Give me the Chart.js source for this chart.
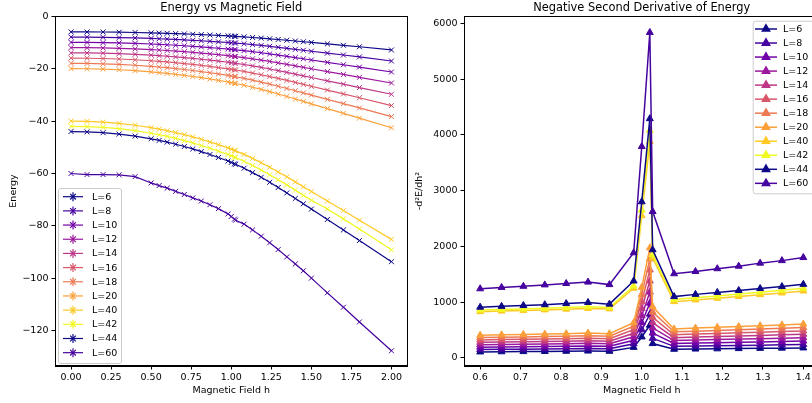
<!DOCTYPE html>
<html><head><meta charset="utf-8">
<script src="https://cdn.jsdelivr.net/npm/chart.js@4.4.1/dist/chart.umd.min.js"></script>
<style>
html,body{margin:0;padding:0;background:#fff;overflow:hidden;width:812px;height:403px;position:relative;}
#c1{position:absolute;left:0;top:0;}
#c2{position:absolute;left:410px;top:0;}
</style></head><body>
<canvas id="c1" width="412" height="403" style="width:412px;height:403px"></canvas>
<canvas id="c2" width="420" height="403" style="width:420px;height:403px"></canvas>
<script>
// ---------- data ----------
const seriesLabels = ['L=6','L=8','L=10','L=12','L=14','L=16','L=18','L=20','L=40','L=42','L=44','L=60'];
const seriesColors = ['#0d0887','#46039f','#7201a8','#9c179e','#bd3786','#d8576b','#ed7953','#fb9f3a','#fdca26','#f0f921','#0d0887','#46039f'];

// Left panel: energy vs field
const hEnergy = [0,0.1,0.2,0.3,0.4,0.5,0.55,0.6,0.653,0.707,0.76,0.813,0.867,0.92,0.98,1.0,1.02,1.027,1.08,1.133,1.187,1.24,1.293,1.347,1.4,1.45,1.5,1.6,1.7,1.8,2.0];
const E_L6  = [-6.0,-6.02,-6.06,-6.13,-6.24,-6.38,-6.46,-6.55,-6.66,-6.78,-6.91,-7.04,-7.19,-7.35,-7.54,-7.61,-7.68,-7.70,-7.91,-8.14,-8.38,-8.64,-8.91,-9.19,-9.48,-9.76,-10.03,-10.57,-11.12,-11.67,-12.9];
const E_L8  = [-8.0,-8.02,-8.08,-8.18,-8.32,-8.5,-8.62,-8.74,-8.88,-9.04,-9.21,-9.39,-9.59,-9.8,-10.05,-10.14,-10.24,-10.27,-10.54,-10.85,-11.18,-11.52,-11.88,-12.26,-12.64,-13.01,-13.38,-14.1,-14.82,-15.56,-17.1];
const E_L10 = [-10,-10.03,-10.1,-10.22,-10.4,-10.63,-10.77,-10.92,-11.1,-11.3,-11.51,-11.74,-11.99,-12.25,-12.56,-12.68,-12.8,-12.84,-13.18,-13.56,-13.97,-14.4,-14.85,-15.32,-15.8,-16.26,-16.72,-17.62,-18.53,-19.45,-21.3];
const E_L12 = [-12,-12.04,-12.12,-12.26,-12.48,-12.76,-12.92,-13.1,-13.32,-13.56,-13.81,-14.09,-14.39,-14.7,-15.07,-15.22,-15.36,-15.41,-15.82,-16.27,-16.76,-17.28,-17.82,-18.38,-18.96,-19.51,-20.06,-21.14,-22.24,-23.34,-25.5];
const E_L14 = [-14,-14.04,-14.14,-14.31,-14.56,-14.88,-15.08,-15.29,-15.54,-15.82,-16.11,-16.44,-16.79,-17.15,-17.58,-17.75,-17.92,-17.98,-18.45,-18.98,-19.56,-20.16,-20.79,-21.45,-22.12,-22.76,-23.41,-24.67,-25.94,-27.23,-29.8];
const E_L16 = [-16,-16.05,-16.16,-16.35,-16.64,-17.01,-17.23,-17.47,-17.76,-18.08,-18.42,-18.78,-19.18,-19.6,-20.1,-20.29,-20.48,-20.54,-21.09,-21.7,-22.35,-23.04,-23.76,-24.51,-25.28,-26.02,-26.75,-28.19,-29.65,-31.12,-34.1];
const E_L18 = [-18,-18.05,-18.18,-18.4,-18.72,-19.13,-19.39,-19.66,-19.98,-20.34,-20.72,-21.13,-21.58,-22.05,-22.61,-22.82,-23.04,-23.11,-23.72,-24.41,-25.15,-25.92,-26.73,-27.58,-28.44,-29.27,-30.1,-31.72,-33.35,-35.01,-38.3];
const E_L20 = [-20,-20.06,-20.2,-20.44,-20.8,-21.26,-21.54,-21.84,-22.2,-22.6,-23.02,-23.48,-23.98,-24.5,-25.12,-25.36,-25.6,-25.68,-26.36,-27.12,-27.94,-28.8,-29.7,-30.64,-31.6,-32.52,-33.44,-35.24,-37.06,-38.9,-42.56];
const E_L40 = [-40,-40.12,-40.4,-40.88,-41.6,-42.52,-43.08,-43.68,-44.4,-45.2,-46.04,-46.96,-47.96,-49.0,-50.24,-50.72,-51.2,-51.36,-52.72,-54.24,-55.88,-57.6,-59.4,-61.28,-63.2,-65.04,-66.88,-70.48,-74.12,-77.8,-85.12];
const E_L42 = [-42,-42.13,-42.42,-42.92,-43.68,-44.65,-45.23,-45.86,-46.62,-47.46,-48.34,-49.31,-50.36,-51.45,-52.75,-53.26,-53.76,-53.93,-55.36,-56.95,-58.67,-60.48,-62.37,-64.34,-66.36,-68.29,-70.22,-73.5,-77.3,-81.2,-89.1];
const E_L44 = [-44,-44.13,-44.44,-44.97,-45.76,-46.77,-47.39,-48.05,-48.84,-49.72,-50.64,-51.66,-52.76,-53.9,-55.26,-55.79,-56.32,-56.5,-57.99,-59.66,-61.47,-63.36,-65.34,-67.41,-69.52,-71.54,-73.57,-77.53,-81.53,-85.58,-93.63];
const E_L60 = [-60.0,-60.4,-60.4,-60.5,-61.2,-63.6,-64.6,-65.6,-66.8,-68.0,-69.3,-70.5,-71.9,-73.4,-75.4,-76.4,-77.4,-77.8,-79.3,-81.5,-83.9,-86.4,-89.0,-91.8,-94.5,-97.1,-99.9,-105.5,-111.0,-116.6,-127.6];

// Right panel: -d2E/dh2
const hDeriv = [0.6,0.653,0.707,0.76,0.813,0.867,0.92,0.98,1.0,1.02,1.027,1.08,1.133,1.187,1.24,1.293,1.347,1.4];
const D_L6  = [108,111,114,117,120,124,120,190,377,587,258,156,160,164,168,172,176,180];
const D_L8  = [151,155,158,162,165,170,165,253,504,785,352,208,214,219,225,230,236,241];
const D_L10 = [194,198,202,206,210,216,210,316,631,983,446,260,267,274,281,288,295,302];
const D_L12 = [237,242,246,251,255,262,255,379,758,1181,540,312,321,329,338,346,355,363];
const D_L14 = [280,285,290,295,300,308,300,442,885,1379,634,364,374,384,394,404,414,424];
const D_L16 = [323,329,334,340,345,354,345,505,1012,1577,728,416,428,439,451,462,474,485];
const D_L18 = [366,372,378,384,390,400,390,568,1139,1775,822,468,481,494,507,520,533,546];
const D_L20 = [409,415,422,428,435,446,435,631,1266,1973,916,520,535,549,564,578,593,607];
const D_L40 = [830,840,850,862,875,888,880,1250,2550,3880,1790,1010,1040,1070,1100,1135,1165,1200];
const D_L42 = [860,870,880,892,905,918,905,1290,2650,4080,1850,1050,1080,1110,1145,1180,1215,1250];
const D_L44 = [910,925,940,955,975,995,965,1380,2800,4290,1940,1100,1140,1175,1210,1245,1280,1320];
const D_L60 = [1240,1265,1285,1310,1335,1360,1315,1885,3790,5835,2625,1510,1550,1600,1645,1700,1745,1800];

const energySeries = [E_L6,E_L8,E_L10,E_L12,E_L14,E_L16,E_L18,E_L20,E_L40,E_L42,E_L44,E_L60];
const derivSeries  = [D_L6,D_L8,D_L10,D_L12,D_L14,D_L16,D_L18,D_L20,D_L40,D_L42,D_L44,D_L60];

const energyTicksX = [0,0.25,0.5,0.75,1.0,1.25,1.5,1.75,2.0];
const energyTicksY = [0,-20,-40,-60,-80,-100,-120];
const derivTicksX  = [0.6,0.7,0.8,0.9,1.0,1.1,1.2,1.3,1.4];
const derivTicksY  = [0,1000,2000,3000,4000,5000,6000];

// ---------- rendering ----------
const FONT = '"DejaVu Sans", "Liberation Sans", sans-serif';
Chart.defaults.font.family = FONT;
Chart.defaults.color = '#000';

function fmtMinus(v, d){ const s = Math.abs(v).toFixed(d); return v < 0 ? '\u2212' + s : s; }

function decoPlugin(cfg){
  return {
    id: 'deco',
    afterDraw(chart){
      const ctx = chart.ctx, a = chart.chartArea;
      ctx.save();
      // legend
      const L = cfg.legend;
      ctx.beginPath();
      if (ctx.roundRect) ctx.roundRect(L.x + 0.5, L.y + 0.5, L.w, L.h, 2.5); else ctx.rect(L.x + 0.5, L.y + 0.5, L.w, L.h);
      ctx.fillStyle = 'rgba(255,255,255,0.8)';
      ctx.fill();
      ctx.strokeStyle = '#cccccc';
      ctx.lineWidth = 1;
      ctx.stroke();
      chart.data.datasets.forEach((d, i) => {
        const y = L.first + i * L.step;
        ctx.strokeStyle = d.borderColor;
        ctx.lineWidth = d.borderWidth;
        ctx.beginPath(); ctx.moveTo(L.x0, y); ctx.lineTo(L.x1, y); ctx.stroke();
        const mx = (L.x0 + L.x1) / 2;
        if (cfg.marker === 'star') {
          ctx.lineWidth = 1.2;
          Chart.helpers.drawPoint(ctx, {pointStyle: 'crossRot', radius: 4, borderWidth: 1.2}, mx, y);
          ctx.beginPath(); ctx.moveTo(mx, y - 4.5); ctx.lineTo(mx, y + 4.5); ctx.stroke();
        } else {
          ctx.fillStyle = d.borderColor;
          Chart.helpers.drawPoint(ctx, {pointStyle: 'triangle', radius: 4.2, borderWidth: 1}, mx, y);
        }
        ctx.fillStyle = '#000';
        ctx.font = '9.5px ' + FONT;
        ctx.textAlign = 'left';
        ctx.textBaseline = 'middle';
        ctx.fillText(d.label, L.tx, y + 0.5);
      });
      // frame (all four spines)
      ctx.strokeStyle = '#000';
      ctx.lineWidth = 1;
      ctx.strokeRect(Math.round(a.left) + 0.5, Math.round(a.top) + 0.5, Math.round(a.right - a.left) - 1, Math.round(a.bottom - a.top) - 1);
      // title
      ctx.fillStyle = '#000';
      ctx.font = '11.4px ' + FONT;
      ctx.textAlign = 'center';
      ctx.textBaseline = 'alphabetic';
      ctx.fillText(cfg.title, (a.left + a.right) / 2, 11);
      ctx.restore();
    }
  };
}

function makeScales(o){
  const tickFont = {size: 9.5, family: FONT};
  const common = (ticksArr) => ({
    type: 'linear',
    grid: {display: true, drawOnChartArea: false, drawTicks: true, tickLength: 3.5, color: '#000', lineWidth: 1},
    border: {display: true, color: '#000', width: 1},
    afterBuildTicks: s => { s.ticks = ticksArr.map(v => ({value: v})); },
  });
  return {
    x: Object.assign(common(o.xTicks), {
      min: o.xMin, max: o.xMax,
      ticks: {font: tickFont, color: '#000', padding: 2, maxRotation: 0, autoSkip: false, callback: v => fmtMinus(v, o.xDec)},
      title: {display: true, text: 'Magnetic Field h', font: {size: 9.5, family: FONT}, color: '#000', padding: {top: 0, bottom: 7}},
      afterFit: s => { s.height = 37; s.paddingLeft = 0; s.paddingRight = 0; s.paddingTop = 0; s.paddingBottom = 0; }
    }),
    y: Object.assign(common(o.yTicks), {
      min: o.yMin, max: o.yMax,
      ticks: {font: tickFont, color: '#000', padding: 3, autoSkip: false, callback: v => fmtMinus(v, 0)},
      title: {display: true, text: o.yTitle, font: {size: 9.5, family: FONT}, color: '#000', padding: {top: o.yTitlePad, bottom: 0}},
      afterFit: s => { s.width = o.yWidth; s.paddingLeft = 0; s.paddingRight = 0; s.paddingTop = 0; s.paddingBottom = 0; }
    })
  };
}

function buildDatasets(xs, series, style){
  return series.map((vals, i) => Object.assign({
    label: seriesLabels[i],
    data: xs.map((x, j) => ({x: x, y: vals[j]})),
    borderColor: seriesColors[i],
    backgroundColor: seriesColors[i],
    pointBorderColor: seriesColors[i],
    pointBackgroundColor: seriesColors[i],
    tension: 0,
    order: series.length - i
  }, style));
}

new Chart(document.getElementById('c1'), {
  type: 'line',
  data: {datasets: buildDatasets(hEnergy, energySeries, {borderWidth: 1.2, pointStyle: 'crossRot', pointRadius: 3.5, pointBorderWidth: 1, pointHoverRadius: 3.5})},
  options: {
    responsive: false, animation: false, devicePixelRatio: 1,
    layout: {padding: {left: 0, right: 4, top: 16, bottom: 0}},
    plugins: {legend: {display: false}, tooltip: {enabled: false}, title: {display: false}},
    scales: makeScales({xTicks: energyTicksX, yTicks: energyTicksY, xMin: -0.1, xMax: 2.1, yMin: -133.4, yMax: 0.05, xDec: 2, yTitle: 'Energy', yTitlePad: 8, yWidth: 55})
  },
  plugins: [decoPlugin({title: 'Energy vs Magnetic Field', marker: 'star',
    legend: {x: 58, y: 188, w: 63, h: 175, first: 196.7, step: 14.18, x0: 63, x1: 83, tx: 92}})]
});

new Chart(document.getElementById('c2'), {
  type: 'line',
  data: {datasets: buildDatasets(hDeriv, derivSeries, {borderWidth: 1.5, pointStyle: 'triangle', pointRadius: 4, pointBorderWidth: 1, pointHoverRadius: 4})},
  options: {
    responsive: false, animation: false, devicePixelRatio: 1,
    layout: {padding: {left: 0, right: 10.5, top: 16, bottom: 0}},
    plugins: {legend: {display: false}, tooltip: {enabled: false}, title: {display: false}},
    scales: makeScales({xTicks: derivTicksX, yTicks: derivTicksY, xMin: 0.56, xMax: 1.44, yMin: -144, yMax: 6130, xDec: 1, yTitle: '-d\u00b2E/dh\u00b2', yTitlePad: 4, yWidth: 54})
  },
  plugins: [decoPlugin({title: 'Negative Second Derivative of Energy', marker: 'tri',
    legend: {x: 342.7, y: 20.7, w: 72, h: 172.6, first: 29, step: 14.03, x0: 345, x1: 367, tx: 373}})]
});
</script></body></html>
